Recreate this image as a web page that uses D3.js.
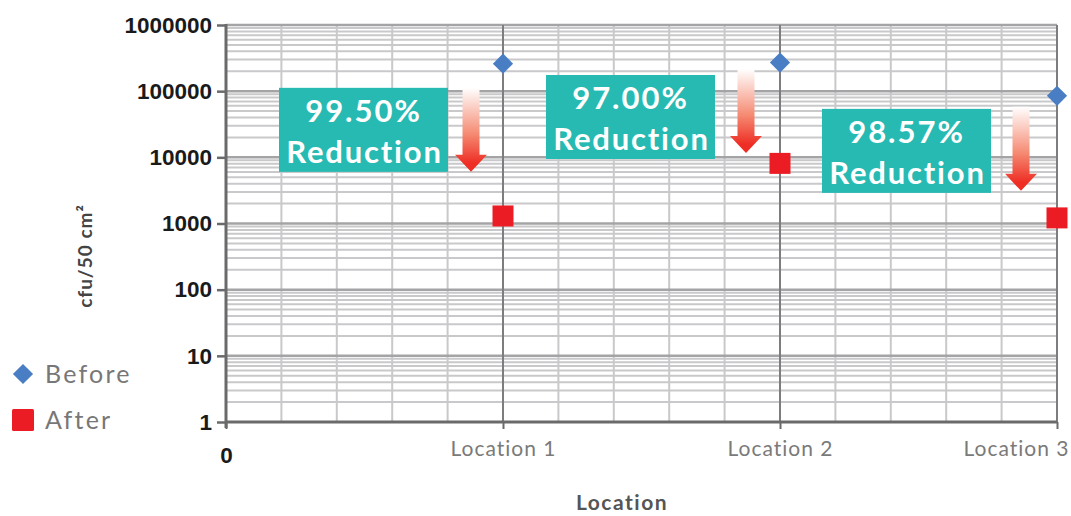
<!DOCTYPE html>
<html>
<head>
<meta charset="utf-8">
<script src="https://cdn.jsdelivr.net/npm/d3@7"></script>
<style>
  body { margin: 0; background: #fff; }
  svg { display: block; }
</style>
</head>
<body>
<svg width="1071" height="516"></svg>
<script>
// chart data
const locations = ["Location 1", "Location 2", "Location 3"];
const before = [260000, 270000, 85000];
const after = [1300, 8100, 1215];
const reductions = ["99.50%", "97.00%", "98.57%"];
const yTicks = [1, 10, 100, 1000, 10000, 100000, 1000000];

const svg = d3.select('svg');
const pLeft = 226, pRight = 1057, pTop = 25, pBottom = 422;

const x = d3.scaleLinear().domain([0, 3]).range([pLeft, pRight]);
const y = d3.scaleLog().domain([1, 1000000]).range([pBottom, pTop]);

// minor horizontal grid (2..9 x 10^n)
const minorY = [];
for (let d = 0; d < 6; d++) {
    for (let k = 2; k <= 9; k++) minorY.push(k * Math.pow(10, d));
}
svg.append('g').selectAll('line').data(minorY).join('line')
    .attr('x1', pLeft).attr('x2', pRight)
    .attr('y1', d => y(d)).attr('y2', d => y(d))
    .attr('stroke', '#c9c9cb').attr('stroke-width', 2);

// minor vertical grid every 0.2
const minorX = d3.range(1, 15).map(i => i * 0.2).filter(v => Math.abs(v - Math.round(v)) > 0.01);
svg.append('g').selectAll('line').data(minorX).join('line')
    .attr('x1', d => x(d)).attr('x2', d => x(d))
    .attr('y1', pTop).attr('y2', pBottom)
    .attr('stroke', '#c9c9cb').attr('stroke-width', 2);

// major horizontal grid
svg.append('g').selectAll('line').data(yTicks.slice(1)).join('line')
    .attr('x1', pLeft).attr('x2', pRight)
    .attr('y1', d => y(d)).attr('y2', d => y(d))
    .attr('stroke', '#a4a4a6').attr('stroke-width', 2.5);

// major vertical grid at locations
svg.append('g').selectAll('line').data([1, 2, 3]).join('line')
    .attr('x1', d => x(d)).attr('x2', d => x(d))
    .attr('y1', pTop).attr('y2', pBottom)
    .attr('stroke', '#7d7d7f').attr('stroke-width', 2);

// axes
const yAxis = svg.append('g').attr('transform', `translate(${pLeft},0)`)
    .call(d3.axisLeft(y).tickValues(yTicks).tickFormat(d3.format('d')).tickSize(9).tickPadding(5));
yAxis.select('.domain').remove();
yAxis.selectAll('line').attr('stroke', '#6a6a6a').attr('stroke-width', 2.5);
yAxis.selectAll('text').attr('fill', '#1a1a1a')
    .style('font-family', 'Liberation Sans').style('font-weight', 'bold').style('font-size', '22.5px');

svg.append('line').attr('x1', pLeft).attr('x2', pLeft).attr('y1', pTop - 1).attr('y2', pBottom + 6)
    .attr('stroke', '#6a6a6a').attr('stroke-width', 3);

const xAxis = svg.append('g').attr('transform', `translate(0,${pBottom})`)
    .call(d3.axisBottom(x).tickValues([0, 1, 2, 3])
        .tickFormat(d => d === 0 ? '0' : locations[d - 1]).tickSize(7).tickPadding(9));
xAxis.select('.domain').attr('stroke', '#6a6a6a').attr('stroke-width', 3)
    .attr('d', `M${pLeft},0H${pRight}`);
xAxis.selectAll('line').attr('stroke', '#6a6a6a').attr('stroke-width', 2);
xAxis.selectAll('text')
    .attr('fill', d => d === 0 ? '#1a1a1a' : '#7a7a7a')
    .style('font-family', d => d === 0 ? 'Liberation Sans' : 'Lato')
    .style('font-weight', d => d === 0 ? 'bold' : 'normal')
    .style('font-size', d => d === 0 ? '22.5px' : '21px')
    .style('letter-spacing', d => d === 0 ? '0px' : '1px')
    .attr('text-anchor', d => d === 3 ? 'end' : 'middle')
    .attr('dx', d => d === 3 ? 12 : 0)
    .attr('dy', d => d === 0 ? '1.1em' : '0.85em');

// axis titles
svg.append('text').attr('x', 622).attr('y', 510).attr('text-anchor', 'middle')
    .attr('fill', '#555').style('font-family', 'Lato').style('font-weight', 'bold')
    .style('font-size', '21px').style('letter-spacing', '1.5px').text('Location');
svg.append('text').attr('transform', 'translate(92,256) rotate(-90)').attr('text-anchor', 'middle')
    .attr('fill', '#444').style('font-family', 'Lato').style('font-weight', 'bold')
    .style('font-size', '19px').style('letter-spacing', '1px').text('cfu/50 cm²');

// gradient for arrows
const defs = svg.append('defs');
const grad = defs.append('linearGradient').attr('id', 'arrowGrad')
    .attr('x1', 0).attr('x2', 0).attr('y1', 0).attr('y2', 1);
grad.append('stop').attr('offset', '0%').attr('stop-color', '#ffffff');
grad.append('stop').attr('offset', '55%').attr('stop-color', '#f58a72');
grad.append('stop').attr('offset', '90%').attr('stop-color', '#ee2d24');
grad.append('stop').attr('offset', '100%').attr('stop-color', '#ee2d24');

// annotation layout (pixel offsets relative to each location)
const boxDx = [-55, -65, -66];
const boxDy = [-10, 4, -6];
const arrowDx = [-32, -34, -36];
const arrowDy = [0, -6, -2];
const boxW = 169, boxH = 84;

reductions.forEach((label, i) => {
    const lx = x(i + 1);
    const mid = y(Math.sqrt(before[i] * after[i]));
    const bx = lx + boxDx[i] - boxW;
    const by = mid + boxDy[i] - boxH / 2;
    const g = svg.append('g');
    g.append('rect').attr('x', bx).attr('y', by).attr('width', boxW).attr('height', boxH)
        .attr('fill', '#27bab3');
    g.append('text').attr('x', bx + boxW / 2).attr('y', by + 34).attr('text-anchor', 'middle')
        .attr('fill', '#fff').style('font-family', 'Lato').style('font-weight', 'bold')
        .style('font-size', '31px').style('letter-spacing', '2px').text(label);
    g.append('text').attr('x', bx + boxW / 2 + 1).attr('y', by + 75).attr('text-anchor', 'middle')
        .attr('fill', '#fff').style('font-family', 'Lato').style('font-weight', 'bold')
        .style('font-size', '31px').style('letter-spacing', '1.8px').text('Reduction');

    const ax = lx + arrowDx[i];
    const aTop = by + arrowDy[i], aTip = by + boxH + arrowDy[i];
    const sw = 8.5, hw = 16, hl = 17;
    g.append('path')
        .attr('d', `M${ax - sw},${aTop}H${ax + sw}V${aTip - hl}H${ax + hw}L${ax},${aTip}L${ax - hw},${aTip - hl}H${ax - sw}Z`)
        .attr('fill', 'url(#arrowGrad)');
});

// data points
const diamond = d3.symbol().type(d3.symbolDiamond2).size(260);
svg.append('g').selectAll('path').data(before).join('path')
    .attr('transform', (d, i) => `translate(${x(i + 1)},${y(d)})`)
    .attr('d', diamond).attr('fill', '#4a7ec4');
svg.append('g').selectAll('rect').data(after).join('rect')
    .attr('x', (d, i) => x(i + 1) - 10.5).attr('y', d => y(d) - 10.5)
    .attr('width', 21).attr('height', 21).attr('fill', '#ec1c24');

// legend
const legend = [{name: 'Before', color: '#4a7ec4', shape: 'diamond'}, {name: 'After', color: '#ec1c24', shape: 'square'}];
const lg = svg.append('g');
legend.forEach((l, i) => {
    const cy = 374 + i * 46;
    if (l.shape === 'diamond') {
        lg.append('path').attr('transform', `translate(23,${cy})`).attr('d', diamond).attr('fill', l.color);
    } else {
        lg.append('rect').attr('x', 12).attr('y', cy - 11).attr('width', 22).attr('height', 22)
            .attr('rx', 1.5).attr('fill', l.color);
    }
    lg.append('text').attr('x', 45).attr('y', cy + 9).attr('fill', '#777')
        .style('font-family', 'Lato').style('font-size', '25px').style('letter-spacing', '2.2px').text(l.name);
});
</script>
</body>
</html>
